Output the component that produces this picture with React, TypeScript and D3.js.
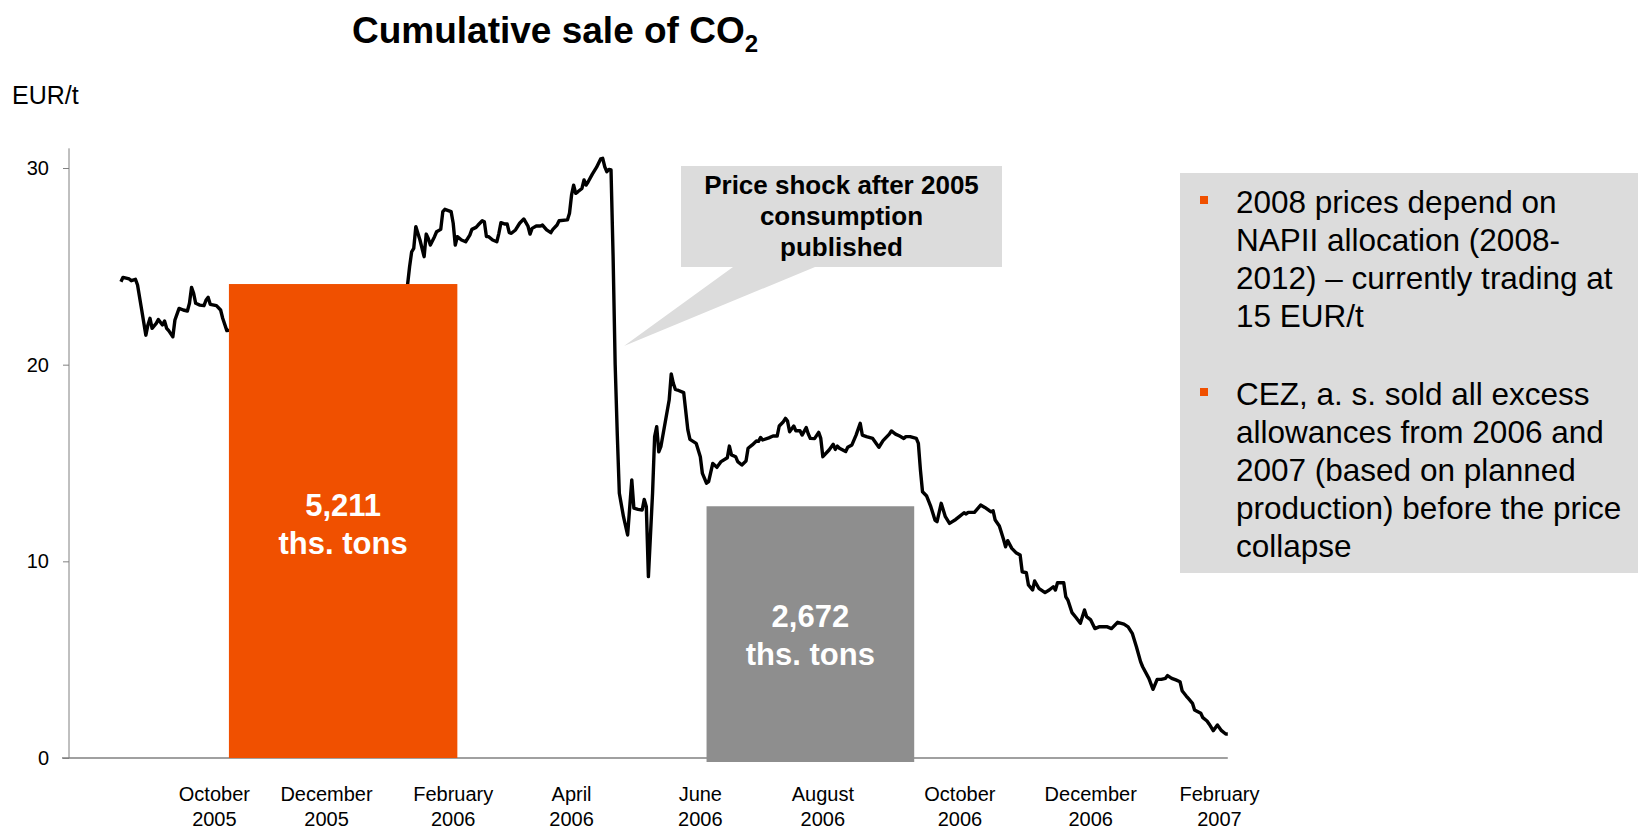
import { useEffect, useRef } from 'react';
import * as d3 from 'd3';

// days counted from 1 Oct 2005, price in EUR/t
const START = new Date(2005, 9, 1);

const days = [
  -40, -39, -36, -35, -33, -32, -30, -28, -27, -26, -25, -23, -22, -20, -19, -18, -17, -15, -14, -12,
  -10, -8, -7, -6, -5, -4, -2, 0, 1, 2, 3, 6, 8, 9, 11, 95,
  98, 99, 100, 101, 102, 104, 106, 107, 108, 109, 111, 112, 114, 115, 116, 119, 120, 121, 122, 124,
  126, 128, 129, 131, 132, 134, 135, 136, 137, 139, 141, 142, 143, 145, 146, 147, 148, 150, 152, 154,
  156, 157, 158, 160, 162, 163, 165, 167, 168, 170, 171, 175, 176, 177, 178, 179, 180, 182, 183, 184,
  185, 187, 189, 191, 192, 193, 194, 195, 196, 197, 198, 199, 200, 202, 204, 206, 207, 209, 211, 212,
  213, 214, 216, 217, 218, 219, 220, 224, 225, 226, 227, 228, 231, 233, 234, 237, 239, 240, 242, 243,
  245, 247, 249, 252, 253, 254, 256, 257, 259, 261, 262, 264, 266, 267, 268, 269, 272, 274, 276, 277,
  279, 280, 281, 282, 284, 285, 287, 288, 290, 291, 292, 294, 296, 297, 298, 301, 303, 304, 305, 306,
  309, 310, 312, 314, 316, 317, 319, 322, 325, 327, 330, 331, 333, 335, 337, 338, 340, 343, 344, 345,
  346, 348, 350, 352, 353, 355, 357, 359, 362, 364, 366, 367, 368, 371, 374, 376, 379, 380, 381, 383,
  385, 386, 387, 389, 391, 393, 394, 396, 397, 399, 400, 402, 405, 407, 409, 410, 411, 414, 415, 416,
  418, 420, 422, 424, 425, 427, 429, 431, 435, 437, 440, 443, 445, 447, 449, 451, 452, 455, 457, 459,
  461, 463, 464, 466, 468, 470, 471, 473, 474, 476, 477, 480, 481, 483, 484, 486, 488, 490, 492, 493,
];

const prices = [
  24.22, 24.44, 24.36, 24.27, 24.34, 24.05, 22.78, 21.5, 22.02, 22.36, 21.85, 22.1, 22.3, 22.02, 22.22, 21.85, 21.73, 21.42, 22.27, 22.86,
  22.78, 22.73, 23.12, 23.93, 23.63, 23.12, 23.03, 23.0, 23.29, 23.42, 23.07, 23.0, 22.78, 22.36, 21.73, 23.0,
  24.04, 24.98, 25.74, 25.91, 27.02, 26.34, 25.49, 26.64, 26.42, 26.08, 26.51, 26.76, 26.88, 27.78, 27.9, 27.78, 27.19, 26.08, 26.51, 26.34,
  26.25, 26.59, 26.88, 26.98, 27.1, 27.32, 27.27, 26.51, 26.51, 26.34, 26.25, 26.68, 27.22, 27.15, 27.15, 26.71, 26.68, 26.85, 27.19, 27.41,
  27.05, 26.64, 26.93, 27.05, 27.05, 27.1, 26.85, 26.71, 26.88, 27.1, 27.32, 27.36, 27.7, 28.63, 29.13, 28.71, 28.79, 28.96, 29.39, 29.13,
  29.3, 29.69, 30.03, 30.46, 30.49, 30.06, 29.81, 29.93, 29.9, 25.5, 20.0, 16.5, 13.46, 12.27, 11.34, 14.14, 12.7, 12.64, 12.61, 13.15,
  12.78, 9.22, 13.46, 16.34, 16.85, 15.57, 15.83, 18.2, 19.53, 19.05, 18.74, 18.71, 18.58, 16.68, 16.2, 16.0, 15.32, 14.47, 13.97, 14.05,
  14.98, 14.78, 15.07, 15.27, 15.86, 15.41, 15.32, 15.07, 14.9, 15.1, 15.75, 15.92, 16.12, 16.1, 16.3, 16.17, 16.28, 16.37, 16.37, 16.88,
  17.1, 17.27, 17.13, 16.59, 16.88, 16.64, 16.64, 16.42, 16.8, 16.47, 16.25, 16.24, 16.56, 16.25, 15.32, 15.66, 15.95, 15.69, 15.86, 15.75,
  15.58, 15.8, 15.92, 16.42, 17.02, 16.42, 16.34, 16.25, 15.8, 16.14, 16.47, 16.63, 16.47, 16.37, 16.25, 16.34, 16.34, 16.25, 16.0, 14.64,
  13.54, 13.32, 12.78, 12.1, 12.02, 12.95, 12.27, 11.93, 12.13, 12.3, 12.47, 12.41, 12.49, 12.49, 12.86, 12.74, 12.52, 12.57, 12.1, 11.8,
  11.12, 10.74, 11.05, 10.66, 10.44, 10.32, 9.47, 9.42, 8.8, 8.54, 9.0, 8.63, 8.41, 8.54, 8.71, 8.54, 8.91, 8.91, 8.2, 8.03,
  7.39, 7.13, 6.85, 7.53, 7.19, 7.02, 6.58, 6.67, 6.67, 6.58, 6.9, 6.81, 6.67, 6.34, 5.66, 4.9, 4.64, 4.05, 3.49, 4.0,
  4.0, 4.05, 4.19, 4.05, 3.97, 3.88, 3.42, 3.15, 3.03, 2.78, 2.44, 2.27, 2.05, 1.88, 1.73, 1.39, 1.68, 1.39, 1.22, 1.22,
];

// sale periods (days from START) and level of the bar
const saleStart = [12, 242];
const saleEnd = [122, 342];
const saleLevel = [24.1, 12.8];
const saleLabels = ['5,211', '2,672'];

const tickDates = ['2005-10-06', '2005-11-29', '2006-01-29', '2006-03-27', '2006-05-28', '2006-07-26', '2006-09-30', '2006-12-02', '2007-02-02'];
const tickMonths = ['October', 'December', 'February', 'April', 'June', 'August', 'October', 'December', 'February'];
const tickYears = ['2005', '2005', '2006', '2006', '2006', '2006', '2006', '2006', '2007'];
const yTicks = [0, 10, 20, 30];

const calloutLines = ['Price shock after 2005', 'consumption', 'published'];
const bulletOne = ['2008 prices depend on', 'NAPII allocation (2008-', '2012) – currently trading at', '15 EUR/t'];
const bulletTwo = ['CEZ, a. s. sold all excess', 'allowances from 2006 and', '2007 (based on planned', 'production) before the price', 'collapse'];

const FONT = '"Liberation Sans", Arial, Helvetica, sans-serif';
const ORANGE = '#f05000';
const GREY_BAR = '#8e8e8e';
const BOX = '#dcdcdc';

export default function App() {
  const svgRef = useRef<SVGSVGElement | null>(null);

  useEffect(() => {
    if (!svgRef.current) return;
    const width = 1638;
    const height = 830;
    d3.select(svgRef.current).selectAll('*').remove();
    const svg = d3.select(svgRef.current)
      .attr('width', width).attr('height', height)
      .style('font-family', FONT);

    const x = d3.scaleLinear().domain([0, 488]).range([204, 1217.4]);
    const y = d3.scaleLinear().domain([0, 30]).range([758, 168]);

    // title
    const title = svg.append('text')
      .attr('x', 352).attr('y', 43)
      .attr('font-size', 37).attr('font-weight', 'bold').attr('fill', '#000');
    title.append('tspan').text('Cumulative sale of CO');
    title.append('tspan').attr('font-size', 24).attr('dy', 9).text('2');

    svg.append('text').attr('x', 12).attr('y', 104)
      .attr('font-size', 25).attr('fill', '#000').text('EUR/t');

    // y axis
    const yAxis = svg.append('g')
      .attr('transform', 'translate(69,0)')
      .call(d3.axisLeft(y).tickValues(yTicks).tickSize(6).tickPadding(14).tickSizeOuter(0));
    yAxis.select('.domain').remove();
    yAxis.selectAll('.tick line').attr('stroke', '#808080');
    yAxis.selectAll('.tick text').attr('font-size', 20).attr('fill', '#000').attr('font-family', FONT);
    svg.append('line')
      .attr('x1', 69).attr('x2', 69).attr('y1', y(31)).attr('y2', y(0))
      .attr('stroke', '#808080').attr('stroke-width', 1);

    // x axis baseline
    svg.append('line')
      .attr('x1', 62).attr('x2', x(493)).attr('y1', y(0)).attr('y2', y(0))
      .attr('stroke', '#808080').attr('stroke-width', 1.5);

    const tickG = svg.append('g');
    tickDates.forEach((ds, i) => {
      const d = d3.timeDay.count(START, new Date(ds + 'T00:00:00'));
      const t = tickG.append('text')
        .attr('text-anchor', 'middle').attr('font-size', 20).attr('fill', '#000');
      t.append('tspan').attr('x', x(d)).attr('y', 801).text(tickMonths[i]);
      t.append('tspan').attr('x', x(d)).attr('y', 826).text(tickYears[i]);
    });

    // price line
    const pts = days.map((d, i) => [d, prices[i]] as [number, number]);
    svg.append('path')
      .datum(pts)
      .attr('d', d3.line<[number, number]>().x(d => x(d[0])).y(d => y(d[1])))
      .attr('fill', 'none').attr('stroke', '#000')
      .attr('stroke-width', 3.4).attr('stroke-linejoin', 'round');

    // sale bars
    const barColors = [ORANGE, GREY_BAR];
    saleStart.forEach((s, i) => {
      const x0 = x(s);
      const x1 = x(saleEnd[i]);
      svg.append('rect')
        .attr('x', x0).attr('y', y(saleLevel[i]))
        .attr('width', x1 - x0).attr('height', y(0) - y(saleLevel[i]) + (i === 0 ? 0 : 4))
        .attr('fill', barColors[i]);
      const cx = (x0 + x1) / 2;
      const cy = y(saleLevel[i] / 2);
      const lbl = svg.append('text')
        .attr('text-anchor', 'middle').attr('font-size', 31)
        .attr('font-weight', 'bold').attr('fill', '#fff');
      lbl.append('tspan').attr('x', cx).attr('y', cy - 5).text(saleLabels[i]);
      lbl.append('tspan').attr('x', cx).attr('y', cy + 33).text('ths. tons');
    });

    // callout
    svg.append('path')
      .attr('d', 'M681,166 H1002 V267 H815 L624,346 L733,267 H681 Z')
      .attr('fill', BOX);
    calloutLines.forEach((l, i) => {
      svg.append('text')
        .attr('x', 841.5).attr('y', 194 + i * 31)
        .attr('text-anchor', 'middle').attr('font-size', 26)
        .attr('font-weight', 'bold').attr('fill', '#000').text(l);
    });

    // notes box
    svg.append('rect')
      .attr('x', 1180).attr('y', 173).attr('width', 458).attr('height', 400)
      .attr('fill', BOX);
    const notes = [{ lines: bulletOne, top: 213 }, { lines: bulletTwo, top: 405 }];
    notes.forEach(n => {
      svg.append('rect')
        .attr('x', 1200).attr('y', n.top - 17).attr('width', 8).attr('height', 8)
        .attr('fill', ORANGE);
      n.lines.forEach((l, i) => {
        svg.append('text')
          .attr('x', 1236).attr('y', n.top + i * 37.9)
          .attr('font-size', 31.5).attr('fill', '#000').text(l);
      });
    });
  }, []);

  return (
    <div style={{ position: 'absolute', left: 0, top: 0, background: '#fff' }}>
      <svg ref={svgRef} />
    </div>
  );
}
